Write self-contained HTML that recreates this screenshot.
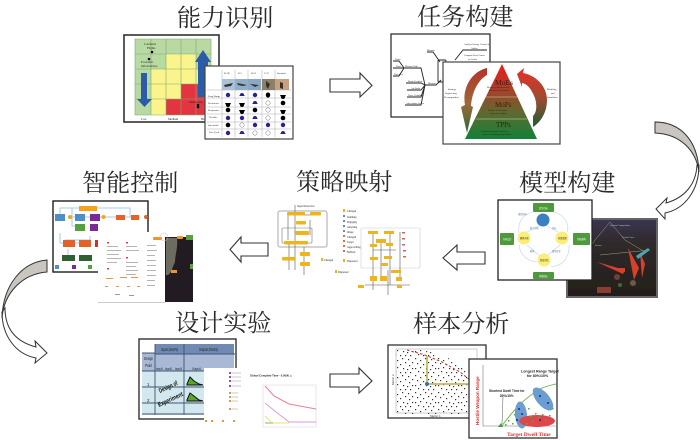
<!DOCTYPE html>
<html lang="zh"><head><meta charset="utf-8"><title>流程图</title>
<style>
html,body{margin:0;padding:0;background:#fff}
svg{display:block}
.t{font-family:"Liberation Serif","Noto Serif CJK SC",serif;font-size:24.1px;fill:#2a2a2a}
.s{font-family:"Liberation Serif",serif;font-size:3px;fill:#222}
.b{font-family:"Liberation Sans","Noto Sans CJK SC",sans-serif;font-size:2.2px;fill:#5b7a99}
.ar{fill:#fff;stroke:#333;stroke-width:1.1}
</style></head><body>
<svg width="700" height="440" viewBox="0 0 700 440" xmlns="http://www.w3.org/2000/svg">
<defs>
<filter id="bl" x="-5%" y="-5%" width="110%" height="110%"><feGaussianBlur stdDeviation="0.25"/></filter>
<linearGradient id="py" x1="0" y1="0" x2="0" y2="1"><stop offset="0" stop-color="#ee1c1c"/><stop offset=".35" stop-color="#a8412a"/><stop offset=".65" stop-color="#5e6a30"/><stop offset="1" stop-color="#128038"/></linearGradient>
<linearGradient id="la" x1="0" y1="0" x2="0" y2="1"><stop offset="0" stop-color="#b5322a"/><stop offset=".55" stop-color="#9a6a3a"/><stop offset="1" stop-color="#2c6a34"/></linearGradient>
<linearGradient id="ra" x1="0" y1="0" x2="0" y2="1"><stop offset="0" stop-color="#e8302a"/><stop offset=".5" stop-color="#a04a30"/><stop offset="1" stop-color="#1f5c30"/></linearGradient>
<linearGradient id="dk" x1="0" y1="0" x2="0" y2="1"><stop offset="0" stop-color="#3a3450"/><stop offset=".3" stop-color="#2f2a2c"/><stop offset="1" stop-color="#231e1a"/></linearGradient>
<pattern id="sc" width="23" height="17" patternUnits="userSpaceOnUse">
<g fill="#333"><rect x="1" y="1" width="1.2" height="1.2"/><rect x="6" y="3" width="1.2" height="1.2"/><rect x="11" y="1" width="1.2" height="1.2"/><rect x="17" y="2" width="1.2" height="1.2"/><rect x="21" y="5" width="1.2" height="1.2"/><rect x="3" y="6" width="1.2" height="1.2"/><rect x="9" y="7" width="1.2" height="1.2"/><rect x="14" y="5" width="1.2" height="1.2"/><rect x="18" y="8" width="1.2" height="1.2"/><rect x="1" y="11" width="1.2" height="1.2"/><rect x="6" y="10" width="1.2" height="1.2"/><rect x="12" y="11" width="1.2" height="1.2"/><rect x="16" y="12" width="1.2" height="1.2"/><rect x="21" y="11" width="1.2" height="1.2"/><rect x="4" y="14" width="1.2" height="1.2"/><rect x="9" y="15" width="1.2" height="1.2"/><rect x="14" y="15" width="1.2" height="1.2"/><rect x="19" y="15" width="1.2" height="1.2"/></g>
</pattern>
<clipPath id="scc"><path d="M396,350 L420,350 C450,354 470,370 480,382 L480,414 L396,414Z"/></clipPath>
</defs>

<text x="177" y="26" class="t">能力识别</text>
<text x="417" y="25" class="t">任务构建</text>
<text x="519" y="191" class="t">模型构建</text>
<text x="296" y="190" class="t">策略映射</text>
<text x="82" y="191" class="t">智能控制</text>
<text x="175" y="331" class="t">设计实验</text>
<text x="413" y="332" class="t">样本分析</text>

<!-- block arrows -->
<path class="ar" d="M330,79H360V73L372,85.5L360,97V92H330Z"/>
<path class="ar" d="M268,243H241V237L230,249.5L241,262V256H268Z"/>
<path class="ar" d="M485,252H457V245L443,258L457,270V264H485Z"/>
<path class="ar" d="M330,374H359V368L372,381L359,393V387H330Z"/>

<!-- curved arrows -->
<path fill="#fff" stroke="#333" d="M699,165C699,190 685,209 665,213L665,219L656,209L667,198L666,203C684,198 696,185 697,165Z"/>
<path fill="#c9c6c0" stroke="#333" d="M655,122C680,122 698,140 699,172C696,150 680,134 655,133Z"/>
<path fill="#fff" stroke="#333" d="M2,312C2,335 15,354 36,358L35,363L47,353L35,341L36,347C17,342 5,330 5,308Z"/>
<path fill="#c9c6c0" stroke="#333" d="M47,260C22,262 3,285 2,318C4,293 22,274 47,272Z"/>

<g filter="url(#bl)">
<!-- Panel 1 -->
<rect x="124" y="35" width="95" height="87" fill="#fff" stroke="#333" stroke-width="1.6"/>
<rect x="135" y="39" width="76" height="76" fill="#b9d9a3"/>
<g fill="#fbf48c"><rect x="166" y="54" width="30" height="15"/><rect x="151" y="69" width="60" height="15"/><rect x="151" y="84" width="30" height="15"/><rect x="151" y="99" width="15" height="16"/></g>
<g fill="#e2353f"><rect x="181" y="84" width="30" height="15"/><rect x="166" y="99" width="45" height="16"/></g>
<path fill="none" stroke="#7fa872" stroke-width=".6" d="M135,39H211V115H135ZM135,54H211M135,69H211M135,84H211M135,99H211M151,39V115M166,39V115M181,39V115M196,39V115"/>
<path fill="#2b5ca8" d="M141,73H147V99H152L144.5,107L137,99H141Z"/>
<path fill="#2b5ca8" d="M198,97H208V62H211L203,50L195,62H198Z"/>
<circle cx="152" cy="52" r="1.3"/><circle cx="149" cy="59" r="1.3"/><circle cx="198" cy="105" r="1.3"/><circle cx="198" cy="107" r="1.3"/>
<text class="s" x="144" y="45">Contested</text><text class="s" x="147" y="49">Flights</text>
<text class="s" x="141" y="63">Economic</text><text class="s" x="141" y="67">Infrastructure</text>
<text class="s" x="189" y="103">Insider Ass.</text>
<text class="s" x="141" y="120">Low</text><text class="s" x="168" y="120">Medium</text><text class="s" x="201" y="120">High</text>

<!-- table -->
<rect x="205" y="66" width="88" height="73" fill="#fff" stroke="#444" stroke-width="1.2"/>
<path stroke="#aaa" stroke-width=".5" fill="none" d="M207,90H291M207,98H291M207,107H291M207,114H291M207,122H291M207,129H291M222,70V137M235,70V137M248,70V137M262,70V137M275,70V137"/>
<rect x="222" y="79" width="13" height="11" fill="#a9c2d8"/><rect x="235" y="79" width="13" height="11" fill="#8fb0c8"/><rect x="248" y="79" width="13" height="11" fill="#8aa8c4"/><rect x="262" y="79" width="13" height="11" fill="#8c8068"/><rect x="275" y="79" width="14" height="11" fill="#c8a080"/>
<path fill="#333" d="M224,85l9,-2-2,3-6,1ZM237,83l10,2-4,1-5-1ZM250,84l9,1-4,2ZM266,81l4,3-2,5-2-3ZM280,82l3,1 0,6-3-1Z"/>
<g class="s" style="font-size:2.5px"><text x="224" y="74">B-1B</text><text x="238" y="74">B-2</text><text x="251" y="74">B-52</text><text x="264" y="74">F-22</text><text x="277" y="74">Standoff</text>
<text x="208" y="97">Long Range</text><text x="208" y="104">Persistence</text><text x="208" y="111">Responsive</text><text x="209" y="118">Flexible</text><text x="208" y="126">Survivable</text><text x="209" y="133">Life Cycle</text></g>
<g fill="#2a2090"><circle cx="228" cy="95" r="2.2"/><circle cx="255" cy="95" r="2.2"/><circle cx="228" cy="118" r="2.2"/><circle cx="242" cy="118" r="2.2"/><circle cx="255" cy="125" r="2.2"/><circle cx="268" cy="125" r="2.2"/><circle cx="283" cy="125" r="2.2"/><circle cx="228" cy="133" r="2.2"/>
<path d="M240,95a2,2 0 0 1 4,0l1,1h-6ZM253,103a2,2 0 0 1 4,0l1,1h-6ZM253,118a2,2 0 0 1 4,0l1,1h-6ZM240,133a2,2 0 0 1 4,0l1,1h-6ZM281,133a2,2 0 0 1 4,0l1,1h-6Z"/></g>
<g fill="#000"><ellipse cx="268" cy="95" rx="2.2" ry="2.6"/><circle cx="283" cy="103" r="2.3"/><circle cx="228" cy="110" r="2.3"/><circle cx="255" cy="110" r="2.3"/><circle cx="283" cy="118" r="2.3"/><circle cx="228" cy="125" r="2.3"/>
<path d="M280,95h6l-1,2a2,2 0 0 1 -4,0ZM225,103h6l-1,2a2,2 0 0 1 -4,0ZM239,103h6l-1,2a2,2 0 0 1 -4,0ZM239,110h6l-1,2a2,2 0 0 1 -4,0ZM280,110h6l-1,2a2,2 0 0 1 -4,0Z"/></g>
<g fill="#fff" stroke="#777" stroke-width=".5"><circle cx="268" cy="103" r="2.2"/><circle cx="268" cy="110" r="2.2"/><circle cx="268" cy="118" r="2.2"/><circle cx="242" cy="125" r="2.2"/><circle cx="255" cy="133" r="2.2"/><circle cx="268" cy="133" r="2.2"/></g>

<!-- Panel 2 -->
<rect x="391" y="34" width="99" height="83" fill="#fff" stroke="#222" stroke-width="1.2"/>
<g fill="none" stroke="#222" stroke-width=".9">
<path d="M393,61H399L404,68M393,68H404M393,76H399L404,68M404,68H421L425,85H436L441,80M406,83H421L425,85M407,90H421L425,85M407,97H421L425,85M405,105H421L425,85M427,52H433L440,62M455,60L463,50H487M455,62L463,62H487"/>
<rect x="438" y="60" width="8" height="22" rx="1"/>
</g>
<g class="s" style="font-size:2.4px"><text x="395" y="60">Tasks</text><text x="396" y="67">Time</text><text x="394" y="75">Threat(s)</text><text x="405" y="67">Mission Task</text><text x="427" y="51">Mission</text><text x="408" y="82">Route Position</text><text x="411" y="89">Air Strike</text><text x="408" y="96">Force Condition</text><text x="406" y="104">Alert status Action</text><text x="428" y="84">Mission</text><text x="464" y="45">Analyze Enemy Course of</text><text x="471" y="49">Action</text><text x="464" y="56">Compare Best Course</text><text x="468" y="60">of Action</text></g>

<rect x="443" y="62" width="117" height="82" fill="#fff" stroke="#444" stroke-width="1.2"/>
<path fill="url(#py)" d="M502,64L537,139H465Z"/>
<path stroke="#d8d8b0" stroke-width=".5" d="M486,97H518M476,119H527"/>
<path fill="url(#la)" d="M487,68C470,72 462,90 465,105L461,107L467,133L473,107L471,106C472,92 478,80 487,75Z"/>
<path fill="url(#ra)" d="M517,74L524,68L523,73C538,76 547,88 547,100C547,112 541,122 533,127L533,116C537,112 537,105 535,98C531,88 527,84 522,83L522,87Z"/>
<g font-family="Liberation Serif,serif" fill="#3a1a10">
<text x="495" y="85" font-size="7.5">MoEs</text><text x="495" y="107" font-size="7">MoPs</text><text x="496" y="127" font-size="7" fill="#103010">TPPs</text></g>
<g class="s" style="font-size:1.9px"><text x="487" y="88">Measures of Effectiveness in</text><text x="489" y="91">Operations Level Outcome</text><text x="488" y="111">Measures of Performance</text><text x="490" y="114">System Level Impacts</text><text x="481" y="132">Technical Performance Parameters</text><text x="482" y="135">Achieved - Technology Impact Metrics</text></g>
<g class="s" style="font-size:2.4px"><text x="448" y="90">Strategy</text><text x="445" y="94">Engineering</text><text x="444" y="98">Decomposition</text><text x="547" y="90">Modeling</text><text x="551" y="94">and</text><text x="547" y="98">Simulation</text></g>

<!-- Model -->
<rect x="566" y="218" width="92" height="80" fill="#666"/>
<rect x="568" y="220" width="88" height="76" fill="url(#dk)"/>
<g fill="none" stroke="#a8a070" stroke-width=".5"><path d="M610,222L595,240M610,222L625,240M595,240L585,255M625,240L645,252M600,255L650,250"/></g>
<g fill="#d8402a"><path d="M597,262L625,270L623,274Z"/><path d="M628,248L634,280L639,268Z"/><path d="M640,252L642,278L645,264Z"/><path d="M610,268H625V272Z"/></g>
<path fill="#4fa3b0" d="M636,256L648,248L650,250L638,259Z"/>
<rect x="597" y="287" width="14" height="6" fill="#8a3c30"/><circle cx="617" cy="277" r="3" fill="#704035"/><circle cx="633" cy="283" r="3" fill="#6a5a4a"/><circle cx="620" cy="285" r="2" fill="#3a6a3a"/>
<g class="s" style="font-size:2.4px"><text x="610" y="226" style="fill:#ccc">System Composition</text><text x="622" y="238" style="fill:#ccc">Aerial Cover</text><text x="595" y="246" style="fill:#ccc">Sensor</text></g>
<rect x="498" y="200" width="94" height="80" fill="#fff" stroke="#222" stroke-width="1.3"/>
<g fill="#4e9a3e"><rect x="533" y="203" width="21" height="9" rx="1"/><rect x="500" y="233" width="14" height="12" rx="1"/><rect x="573" y="233" width="17" height="12" rx="1"/><rect x="533" y="272" width="21" height="7" rx="1"/></g>
<g fill="none" stroke="#b9d4ea" stroke-width=".6"><path d="M533,212C520,215 518,225 519,233M554,212C565,215 570,225 567,232M519,245C520,255 528,262 538,262M569,245C570,258 560,268 551,266M539,226L527,232M547,226L558,232M527,245L540,256M560,245L548,255"/></g>
<ellipse cx="543" cy="220" rx="6.5" ry="6.5" fill="#3a80c0"/>
<g fill="#fbee78"><circle cx="524" cy="238" r="6.5"/><circle cx="562" cy="238" r="6.5"/><circle cx="544" cy="260" r="6.5"/></g>
<g class="b" style="fill:#fff"><text x="539" y="209">任务目标</text><text x="503" y="240">分析设计</text><text x="577" y="240">系统架构</text><text x="539" y="277">性能指标</text></g>
<g class="b" style="fill:#222"><text x="520" y="239">模拟分析</text><text x="558" y="239">仿真规划</text><text x="540" y="261">验证评估</text></g>
<g class="b"><text x="518" y="215">规划协同</text><text x="530" y="229">能力分析</text><text x="552" y="229">目标</text><text x="530" y="252">模拟</text><text x="552" y="252">模型优化</text></g>

<!-- Strategy -->
<g fill="none" stroke="#555" stroke-width=".6">
<rect x="278" y="211" width="49" height="36" rx="2" stroke="#aaa" stroke-width="1"/>
<rect x="282" y="228" width="30" height="15" rx="1" stroke="#777"/>
<path d="M295,205V270M288,215V240M310,220V235M289,243V270M304,247V275M300,215H313"/>
<rect x="361" y="228" width="59" height="40" rx="1" stroke="#ccc"/>
<path d="M373,232V290M390,232V285M400,232V280M381,240V280M373,250H396M388,270V295M365,285H410"/>
</g>
<g fill="#eeb41e">
<rect x="287" y="212" width="18" height="3.5" rx="1"/><rect x="310" y="212" width="11" height="3.5" rx="1"/><rect x="296" y="221" width="10" height="3.5" rx="1"/><rect x="295" y="231" width="14" height="4" rx="1"/><rect x="284" y="241" width="24" height="3.5" rx="1"/><rect x="282" y="257" width="13" height="3.5" rx="1"/><rect x="300" y="252" width="10" height="4" rx="1"/><rect x="300" y="262" width="10" height="4" rx="1"/>
<rect x="321" y="258" width="2" height="3"/><rect x="335" y="270" width="2" height="3"/><rect x="343" y="209" width="2" height="3"/><rect x="343" y="259" width="2" height="3"/>
<rect x="368" y="231" width="10" height="3"/><rect x="384" y="231" width="10" height="3"/><rect x="376" y="239" width="10" height="4"/><rect x="370" y="244" width="7" height="3"/><rect x="386" y="243" width="7" height="3"/><rect x="370" y="257" width="8" height="3"/><rect x="384" y="256" width="8" height="3"/><rect x="381" y="263" width="7" height="3"/><rect x="391" y="270" width="10" height="3"/><rect x="370" y="276" width="7" height="5"/><rect x="380" y="276" width="7" height="5"/><rect x="396" y="277" width="6" height="4"/><rect x="358" y="285" width="6" height="3"/><rect x="397" y="285" width="5" height="3"/>
</g>
<g fill="#5b8fc9"><rect x="343" y="215" width="2" height="2"/><rect x="343" y="220" width="2" height="2"/><rect x="343" y="225" width="2" height="2"/><rect x="343" y="230" width="2" height="2"/></g>
<g fill="#d87040"><rect x="343" y="235" width="2" height="2"/><rect x="343" y="240" width="2" height="2"/><rect x="343" y="245" width="2" height="2"/><rect x="343" y="250" width="2" height="2"/></g>
<g class="s" style="font-size:2.6px"><text x="297" y="207">Signal Detection</text><text x="324" y="261">Changed</text><text x="338" y="273">Dispersed</text><text x="347" y="212">Changed</text><text x="347" y="218">Jamming</text><text x="347" y="223">Engaging</text><text x="347" y="228">Attacking</text><text x="347" y="233">Image</text><text x="347" y="238">Changed</text><text x="347" y="243">Target</text><text x="347" y="248">Approaching</text><text x="347" y="253">Ballistic</text><text x="347" y="262">Dispersed</text></g>
<g fill="#d86060"><rect x="402" y="232" width="3" height="1.5"/><rect x="402" y="238" width="3" height="1.5"/><rect x="402" y="244" width="3" height="1.5"/><rect x="403" y="250" width="3" height="1.5"/><rect x="403" y="256" width="3" height="1.5"/></g>

<!-- Control -->
<rect x="53" y="201" width="95" height="71" fill="#fff" stroke="#111" stroke-width="1.3"/>
<g fill="none" stroke="#a7cbe6" stroke-width="1"><path d="M60,214V208H72V217M72,217H140M72,208H84M72,217V226H80M94,208H130V217M60,233V243H85M65,240H90V236M68,249V258"/></g>
<rect x="55" y="214" width="10" height="7" fill="#4d8fc6"/><rect x="79" y="206" width="18" height="5" fill="#f5a21e"/><rect x="75" y="214" width="10" height="7" fill="#4d8fc6"/><rect x="90" y="214" width="10" height="7" fill="#7a2b96"/><rect x="116" y="215" width="9" height="5" fill="#e2622a"/><rect x="131" y="215" width="8" height="5" fill="#e2622a"/><rect x="75" y="224" width="10" height="7" fill="#54a040"/><rect x="90" y="224" width="8" height="7" fill="#7a2b96"/>
<circle cx="70" cy="217" r="2" fill="#f5a21e"/><circle cx="103.5" cy="217" r="2" fill="#f5a21e"/><circle cx="146" cy="217" r="2" fill="#e2622a"/>
<rect x="63" y="240" width="12" height="7" fill="#e2622a"/><rect x="79" y="240" width="12" height="7" fill="#e2622a"/><rect x="95" y="240" width="4" height="7" fill="#d2302a"/><rect x="62" y="255" width="13" height="6" fill="#2f6030"/><rect x="79" y="255" width="13" height="6" fill="#2f6030"/>
<rect x="55" y="265" width="4" height="4" fill="#4d8fc6"/><rect x="72" y="265" width="4" height="4" fill="#7a2b96"/><rect x="88" y="265" width="4" height="4" fill="#54a040"/>
<rect x="98" y="232" width="95" height="70" fill="#fff"/>
<rect x="165" y="237" width="28" height="65" fill="#241f20"/>
<path fill="#6c6c60" d="M166,238H177C178,248 175,255 175,262C172,268 172,272 168,275H166Z"/>
<rect x="153" y="237" width="9" height="3" rx="1" fill="#f0932a"/><rect x="177" y="236" width="6" height="3" rx="1" fill="#f0932a"/><rect x="186" y="235" width="7" height="5" fill="#5aa040"/><rect x="190" y="264" width="3" height="5" fill="#5aa040"/><rect x="171" y="270" width="6" height="3" fill="#f0932a"/>
<circle cx="164" cy="237" r="4" fill="none" stroke="#e8b0b0" stroke-width=".5"/>
<g fill="#d8403a"><rect x="107" y="242" width="2" height="1.5"/><rect x="126" y="242" width="2" height="1.5"/><rect x="107" y="268" width="2" height="1.5"/><rect x="126" y="257" width="2" height="1.5"/></g>
<g fill="#b5b5b5"><rect x="107" y="246" width="11" height="1"/><rect x="107" y="250" width="14" height="1"/><rect x="107" y="254" width="12" height="1"/><rect x="107" y="258" width="14" height="1"/><rect x="107" y="262" width="10" height="1"/><rect x="126" y="246" width="11" height="1"/><rect x="126" y="250" width="13" height="1"/><rect x="126" y="262" width="12" height="1"/><rect x="126" y="266" width="10" height="1"/><rect x="126" y="270" width="12" height="1"/><rect x="126" y="274" width="10" height="1"/><rect x="147" y="245" width="9" height="1"/><rect x="147" y="250" width="10" height="1"/><rect x="147" y="255" width="8" height="1"/><rect x="147" y="260" width="9" height="1"/><rect x="147" y="265" width="9" height="1"/><rect x="147" y="270" width="9" height="1"/><rect x="147" y="275" width="9" height="1"/><rect x="147" y="280" width="8" height="1"/><rect x="147" y="285" width="8" height="1"/><rect x="98" y="302" width="67" height=".7"/></g>
<g fill="#e8963a"><rect x="106" y="278" width="7" height="1"/><rect x="120" y="277" width="7" height="1"/><rect x="131" y="277" width="7" height="1"/><rect x="105" y="286" width="3" height="1"/><rect x="116" y="286" width="3" height="1"/><rect x="127" y="286" width="3" height="1"/><rect x="137" y="286" width="3" height="1"/></g>
<rect x="115" y="294" width="5" height="1" fill="#999"/><rect x="129" y="295" width="5" height="1" fill="#999"/>

<!-- DOE -->
<rect x="139" y="339" width="97" height="80" fill="#fff" stroke="#333" stroke-width="1.4"/>
<rect x="142" y="353" width="13" height="28" fill="#a9b8d4"/>
<rect x="155" y="344" width="29" height="37" fill="#a9b8d4"/><rect x="155" y="344" width="29" height="10" fill="#6f8ab4"/>
<rect x="184" y="344" width="50" height="37" fill="#a9b8d4"/><rect x="184" y="344" width="50" height="10" fill="#6f8ab4"/>
<rect x="142" y="371" width="93" height="44" fill="#d2e8ee"/>
<path stroke="#3c5570" stroke-width=".9" fill="none" d="M142,353H155M155,354H235M155,344V415M184,344V415M142,371H235M142,387H235M142,403H235M142,414H235"/>
<g font-family="Liberation Sans,sans-serif" font-size="4.5" fill="#222">
<text x="161" y="351" textLength="17" lengthAdjust="spacingAndGlyphs">Inputs (MoPs)</text>
<text x="199" y="351" textLength="19" lengthAdjust="spacingAndGlyphs">Outputs (MoEs)</text>
<text x="144" y="360" textLength="9" lengthAdjust="spacingAndGlyphs">Design</text>
<text x="145" y="367" textLength="7" lengthAdjust="spacingAndGlyphs">Point</text>
<text x="156" y="370" font-size="4" textLength="7" lengthAdjust="spacingAndGlyphs">Input1</text>
<text x="165" y="370" font-size="4" textLength="7" lengthAdjust="spacingAndGlyphs">Input2</text>
<text x="175" y="370" font-size="4" textLength="7" lengthAdjust="spacingAndGlyphs">Input3</text>
<text x="192" y="370" font-size="4" textLength="9" lengthAdjust="spacingAndGlyphs">Output1</text>
<text x="147" y="386">1</text><text x="147" y="402">2</text></g>
<g font-family="Liberation Sans,sans-serif" font-weight="bold" font-size="6.5" fill="#111">
<text transform="translate(160,393) rotate(-25)" textLength="20" lengthAdjust="spacingAndGlyphs">Design of</text>
<text transform="translate(159,407) rotate(-25)" textLength="27" lengthAdjust="spacingAndGlyphs">Experiment</text></g>
<path fill="#5aa52e" stroke="#111" stroke-width="1" d="M187,384L190,377L194,381L199,384L203,385H187Z"/>
<path fill="#5aa52e" stroke="#111" stroke-width="1" d="M187,400L190,393L194,396L199,400L203,401H187Z"/>
<rect x="204" y="368" width="113" height="62" fill="#fff"/>
<g fill="#9a4ab0"><rect x="229" y="372" width="2" height="2"/><rect x="229" y="376" width="2" height="2"/><rect x="229" y="380" width="2" height="2"/><rect x="229" y="385" width="2" height="2"/></g>
<g fill="#c8c8c8"><rect x="232" y="372.5" width="9" height="1"/><rect x="232" y="376.5" width="9" height="1"/><rect x="232" y="380.5" width="9" height="1"/><rect x="232" y="385.5" width="9" height="1"/><rect x="232" y="392.5" width="6" height="1"/><rect x="232" y="396.5" width="6" height="1"/><rect x="232" y="400.5" width="6" height="1"/><rect x="232" y="408.5" width="6" height="1"/></g>
<g fill="#e8963a"><rect x="229" y="392" width="2" height="2"/><rect x="229" y="396" width="2" height="2"/><rect x="229" y="400" width="2" height="2"/><rect x="229" y="408" width="2" height="2"/><rect x="205" y="420" width="2" height="2"/><rect x="211" y="420" width="2" height="2"/><rect x="222" y="420" width="2" height="2"/><rect x="233" y="420" width="2" height="2"/></g>
<text x="250" y="376.5" font-family="Liberation Sans,sans-serif" font-size="2.7" fill="#222" font-weight="bold">Global Complete Time - 0.5000_c</text>
<rect x="263" y="385" width="53" height="42" fill="#fff" stroke="#e4d8e4" stroke-width=".7"/>
<path fill="none" stroke="#ef7d92" stroke-width="1" d="M265,386L274,396L289,404L316,409"/>
<path fill="none" stroke="#d49ad8" stroke-width=".9" d="M265,403L276,412L289,422H316"/>
<path fill="none" stroke="#efe26a" stroke-width=".9" d="M265,416L272,423H289"/>
<path fill="none" stroke="#9cc97e" stroke-width="1.2" d="M265,423H273"/>

<!-- Sample -->
<rect x="388" y="345" width="98" height="73" fill="#fff" stroke="#333" stroke-width="1.3"/>
<rect x="396" y="349" width="81" height="64" fill="none" stroke="#999" stroke-width=".5"/>
<rect x="396" y="349" width="84" height="65" fill="url(#sc)" clip-path="url(#scc)"/>
<path fill="none" stroke="#b8352a" stroke-width="1" stroke-dasharray="2.5 2" d="M407,350L425,355L442,362L460,372L470,380"/>
<path fill="none" stroke="#b8ae3e" stroke-width="1.5" d="M427,356V384H470"/>
<circle cx="427" cy="384" r="2" fill="#3a6eb0"/>
<text transform="translate(394,385) rotate(-90)" font-family="Liberation Sans,sans-serif" font-size="3" fill="#333">Metric 2</text><text x="430" y="417" font-family="Liberation Sans,sans-serif" font-size="3" fill="#333">Metric 1</text>

<rect x="469" y="359" width="88" height="79" fill="#fff" stroke="#333" stroke-width="1.3"/>
<path fill="none" stroke="#777" stroke-width=".6" d="M483,365V426H556"/>
<path fill="none" stroke="#75b85a" stroke-width="1" d="M501,427C515,408 525,398 540,389C546,386 552,385 556,384"/>
<ellipse cx="521" cy="415" rx="6" ry="13.5" fill="#6a9dd0" transform="rotate(-5 521 415)"/>
<ellipse cx="543" cy="399" rx="6.5" ry="14" fill="#6a9dd0" transform="rotate(-40 543 399)"/>
<ellipse cx="537" cy="421" rx="18" ry="6" fill="#e0444a"/>
<g fill="#2a2090"><circle cx="519" cy="409" r="1"/><circle cx="522" cy="414" r="1"/><circle cx="517" cy="420" r="1"/><circle cx="540" cy="396" r="1"/><circle cx="548" cy="403" r="1"/><circle cx="540" cy="420" r="1"/></g>
<g fill="#4cae46"><rect x="508" y="420" width="1.5" height="1.5"/><rect x="512" y="423" width="1.5" height="1.5"/><rect x="514" y="414" width="1.5" height="1.5"/><rect x="528" y="408" width="1.5" height="1.5"/><rect x="530" y="416" width="1.5" height="1.5"/><rect x="535" y="413" width="1.5" height="1.5"/><rect x="542" y="414" width="1.5" height="1.5"/><rect x="549" y="415" width="1.5" height="1.5"/><rect x="552" y="408" width="1.5" height="1.5"/><rect x="505" y="424" width="1.5" height="1.5"/><rect x="545" y="419" width="1.5" height="1.5"/><rect x="532" y="421" width="1.5" height="1.5"/><rect x="526" y="423" width="1.5" height="1.5"/><rect x="538" y="417" width="1.5" height="1.5"/></g>
<path d="M501,423L498,427H503Z" fill="#3aa040"/>
<path stroke="#555" stroke-width=".5" d="M503,397L502,424"/>
<g font-family="Liberation Sans,sans-serif" font-size="3.2" fill="#222" font-weight="bold"><text x="489" y="392">Shortest Dwell Time for</text><text x="500" y="397">80%/10%</text><text x="521" y="372.5" font-size="3.6">Longest Range Target</text><text x="527" y="377" font-size="3.6">for 80%/10%</text></g>
<text transform="translate(479,425) rotate(-90)" font-family="Liberation Sans,sans-serif" font-size="4.5" font-weight="bold" fill="#e03030">Hostile Weapon Range</text>
<text x="507" y="436" font-family="Liberation Serif,serif" font-size="5.5" font-weight="bold" fill="#e03030">Target Dwell Time</text>
</g>
</svg>
</body></html>
